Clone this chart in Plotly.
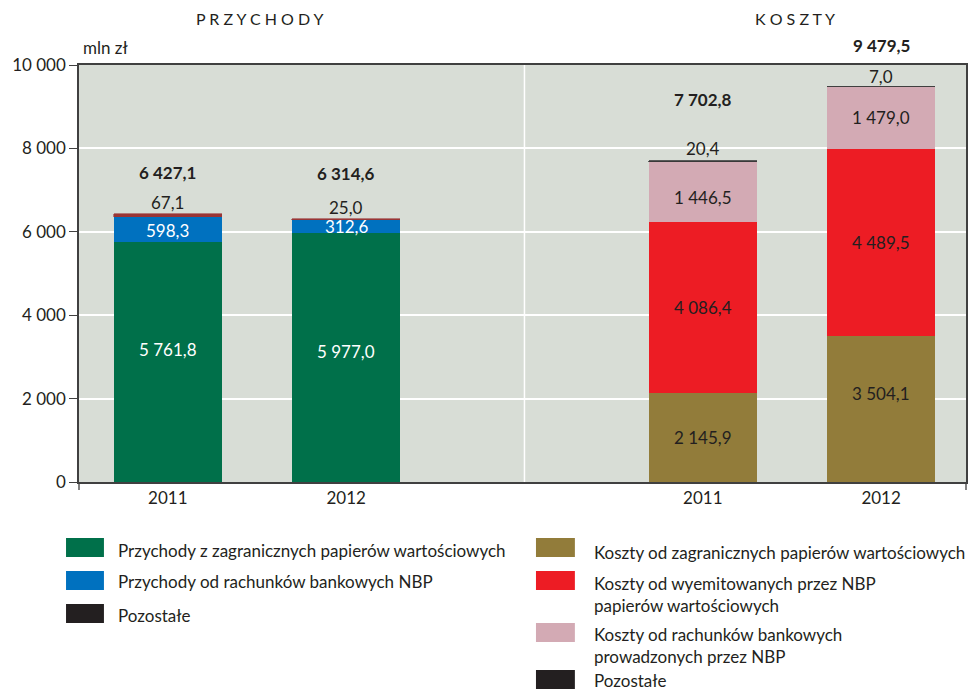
import plotly.graph_objects as go

# ---------------- data ----------------
years = ["2011", "2012"]
przychody_zagr = [5761.8, 5977.0]
przychody_rach = [598.3, 312.6]
przychody_poz = [67.1, 25.0]
przychody_total = [6427.1, 6314.6]

koszty_zagr = [2145.9, 3504.1]
koszty_wyem = [4086.4, 4489.5]
koszty_rach = [1446.5, 1479.0]
koszty_poz = [20.4, 7.0]
koszty_total = [7702.8, 9479.5]

y_ticks = [0, 2000, 4000, 6000, 8000, 10000]
panel_titles = ["P R Z Y C H O D Y", "K O S Z T Y"]
unit_label = "mln zł"

legend_left = ["Przychody z zagranicznych papierów wartościowych",
               "Przychody od rachunków bankowych NBP",
               "Pozostałe"]
legend_right = ["Koszty od zagranicznych papierów wartościowych",
                "Koszty od wyemitowanych przez NBP<br>papierów wartościowych",
                "Koszty od rachunków bankowych<br>prowadzonych przez NBP",
                "Pozostałe"]

# ---------------- style ----------------
FONT = "Lato, 'Open Sans', sans-serif"
DARK = "#231f20"
C_GREEN = "#00704a"
C_BLUE = "#0071bf"
C_POZ_P = "#9a3535"
C_OLIVE = "#927c3a"
C_RED = "#ed1c24"
C_PINK = "#d3aab4"
C_BLACK = "#231f20"
BG = "#d8ddd6"

L, T, R, B = 79, 65, 6, 209
W = 974 - L - R
H = 691 - T - B
def px(x):
    return (x - L) / W
def py(y):
    return 1 - (y - T) / H

xp = [0, 1]   # przychody positions
xk = [3, 4]   # koszty positions
BW = 0.604

def fmt(v):
    s = f"{v:,.1f}"
    return s.replace(",", " ").replace(".", ",")

fig = go.Figure()

def add_bar(x, vals, color, name, lw=0):
    fig.add_trace(go.Bar(x=x, y=vals, marker=dict(color=color, line=dict(width=lw, color=color)),
                         width=BW, name=name, showlegend=False, hoverinfo="skip"))

add_bar(xp, przychody_zagr, C_GREEN, legend_left[0])
add_bar(xp, przychody_rach, C_BLUE, legend_left[1])
add_bar(xp, przychody_poz, C_POZ_P, legend_left[2], lw=0.6)
add_bar(xk, koszty_zagr, C_OLIVE, legend_right[0])
add_bar(xk, koszty_wyem, C_RED, legend_right[1])
add_bar(xk, koszty_rach, C_PINK, legend_right[2])
add_bar(xk, koszty_poz, "#3a3a3a", legend_right[3], lw=0.8)

ann = []
def text_font(size=17, color=DARK):
    return dict(size=size, color=color, family=FONT)

# segment labels (inside)
def seg_labels(x, stacks, colors, shifts):
    for i, xi in enumerate(x):
        base = 0
        for s, col, sh in zip(stacks, colors, shifts):
            v = s[i]
            ann.append(dict(x=xi, y=base + v / 2, text=fmt(v), showarrow=False,
                            xanchor="center", yanchor="middle",
                            yshift=sh[i], font=text_font(17, col)))
            base += v

seg_labels(xp, [przychody_zagr, przychody_rach], ["white", "white"],
           [[12, 6], [-1, 0]])
seg_labels(xk, [koszty_zagr, koszty_wyem, koszty_rach], [DARK, DARK, DARK],
           [[0, 15], [0, 0], [-6, 0]])

# small 'pozostałe' labels above bars and bold totals
def top_labels(x, stacks, poz, totals, poz_shift, tot_shift):
    for i, xi in enumerate(x):
        top = sum(s[i] for s in stacks) + poz[i]
        ann.append(dict(x=xi, y=top, text=fmt(poz[i]), showarrow=False, yshift=poz_shift[i],
                        xanchor="center", yanchor="middle", font=text_font(17)))
        ann.append(dict(x=xi, y=totals[i], text="<b>" + fmt(totals[i]) + "</b>", showarrow=False,
                        xanchor="center", yanchor="middle",
                        yshift=tot_shift[i], font=text_font(17)))

top_labels(xp, [przychody_zagr, przychody_rach], przychody_poz, przychody_total, [11, 11], [41, 45])
top_labels(xk, [koszty_zagr, koszty_wyem, koszty_rach], koszty_poz, koszty_total, [12, 10], [61, 41])

def paper_text(x, y, text, size=17, xanchor="left"):
    ann.append(dict(xref="paper", yref="paper", x=px(x), y=py(y), text=text,
                    xanchor=xanchor, yanchor="middle", align="left",
                    showarrow=False, font=text_font(size)))

# titles
paper_text(260, 18, panel_titles[0], 16, "center")
paper_text(797, 18, panel_titles[1], 16, "center")
paper_text(81, 47, unit_label, 17)

shapes = []
# divider between panels
shapes.append(dict(type="line", xref="x", yref="paper", x0=2, x1=2, y0=0, y1=1,
                   line=dict(color="white", width=1.5), layer="below"))
# small boundary ticks below axis
for xx in (L, 974 - R):
    shapes.append(dict(type="line", xref="paper", yref="paper", x0=px(xx), x1=px(xx),
                       y0=0, y1=py(490), line=dict(color="#404040", width=1.3)))

# legend (custom)
left_markers = [(538, C_GREEN), (571, C_BLUE), (604, C_BLACK)]
left_text_y = [550, 581, 615]
for (y0, col), ty, txt in zip(left_markers, left_text_y, legend_left):
    shapes.append(dict(type="rect", xref="paper", yref="paper", x0=px(66), x1=px(104),
                       y0=py(y0), y1=py(y0 + 19), fillcolor=col, line=dict(width=0)))
    paper_text(116, ty, txt)

right_markers = [(538, C_OLIVE), (571, C_RED), (623, C_PINK), (670, C_BLACK)]
right_text_y = [552, 594, 645, 680]
for (y0, col), ty, txt in zip(right_markers, right_text_y, legend_right):
    shapes.append(dict(type="rect", xref="paper", yref="paper", x0=px(537), x1=px(576),
                       y0=py(y0), y1=py(y0 + 19), fillcolor=col, line=dict(width=0)))
    paper_text(593, ty, txt)

fig.update_layout(
    barmode="stack",
    width=974, height=691,
    margin=dict(l=L, r=R, t=T, b=B, pad=0),
    paper_bgcolor="white",
    plot_bgcolor=BG,
    font=dict(family=FONT, size=17, color=DARK),
    annotations=ann,
    shapes=shapes,
    showlegend=False,
    bargap=0,
)
fig.update_xaxes(range=[-0.498, 4.476], tickvals=xp + xk, ticktext=years + years,
                 showgrid=False, zeroline=False, showline=True, mirror=True,
                 linecolor="#404040", linewidth=1.5, ticks="", tickfont=text_font(17))
fig.update_yaxes(range=[0, 10000], tickvals=y_ticks,
                 ticktext=[fmt(v)[:-2] for v in y_ticks],
                 showgrid=True, gridcolor="white", gridwidth=1.5, zeroline=False,
                 showline=True, mirror=True, linecolor="#404040", linewidth=1.5,
                 ticks="outside", ticklen=8, tickcolor="#404040", tickwidth=1.3,
                 tickfont=text_font(17))

fig.write_html("out.html", config={"displayModeBar": False},
               post_script="document.body.style.margin='0px';document.body.style.overflow='hidden';")
